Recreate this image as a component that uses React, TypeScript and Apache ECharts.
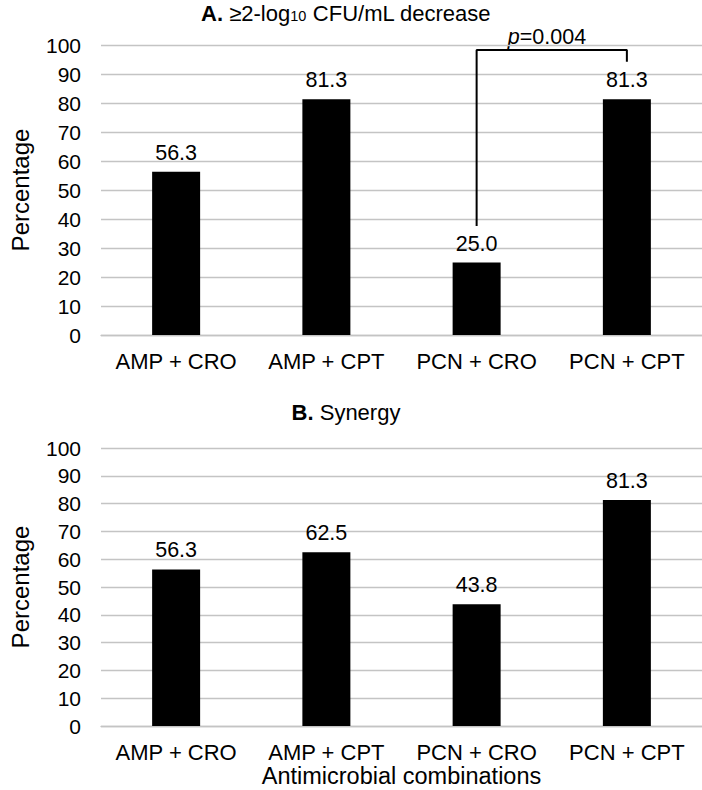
import React, { useEffect, useRef } from "react";
import * as echarts from "echarts";

const categories = ["AMP + CRO", "AMP + CPT", "PCN + CRO", "PCN + CPT"];
const decreaseValues = [56.3, 81.3, 25.0, 81.3];
const synergyValues = [56.3, 62.5, 43.8, 81.3];
const yMin = 0;
const yMax = 100;
const yStep = 10;
// significance bracket between PCN + CRO and PCN + CPT (category index, value)
const bracketPoints = [
  [2, 37.6],
  [2, 98.3],
  [3, 98.3],
  [3, 94.2],
];
const pValueText = "0.004";

const FONT = "'Liberation Sans', Arial, Helvetica, sans-serif";
const GRID_COLOR = "#c4c4c4";

function yAxisFor(gridIndex: number) {
  return {
    type: "value",
    gridIndex,
    min: yMin,
    max: yMax,
    interval: yStep,
    name: "Percentage",
    nameLocation: "middle",
    nameGap: 69,
    nameTextStyle: { fontSize: 24, color: "#000", fontFamily: FONT },
    axisLine: { show: false },
    axisTick: { show: false },
    axisLabel: { fontSize: 21, color: "#000", fontFamily: FONT, margin: 20 },
    splitLine: { lineStyle: { color: GRID_COLOR, width: 1.3 } },
  };
}

function xAxisFor(gridIndex: number, withName: boolean) {
  return {
    type: "category",
    gridIndex,
    data: categories,
    name: withName ? "Antimicrobial combinations" : "",
    nameLocation: "middle",
    nameGap: 37,
    nameTextStyle: { fontSize: 23.5, color: "#000", fontFamily: FONT },
    axisLine: { show: true, lineStyle: { color: GRID_COLOR, width: 1.3 } },
    axisTick: { show: false },
    axisLabel: { fontSize: 22, color: "#000", fontFamily: FONT, margin: 15, interval: 0 },
  };
}

function barSeries(values: number[], idx: number) {
  return {
    type: "bar",
    xAxisIndex: idx,
    yAxisIndex: idx,
    data: values,
    barWidth: 48,
    itemStyle: { color: "#000" },
    label: {
      show: true,
      position: "top",
      distance: 8,
      fontSize: 21.5,
      color: "#000",
      fontFamily: FONT,
      formatter: (p: any) => Number(p.value).toFixed(1),
    },
  };
}

export default function App() {
  const ref = useRef<HTMLDivElement>(null);

  useEffect(() => {
    if (!ref.current) return;
    const chart = echarts.init(ref.current, undefined, { renderer: "svg" });
    const mainTok = { fontSize: 22, lineHeight: 21, fontFamily: FONT, color: "#000" };
    chart.setOption({
      animation: false,
      backgroundColor: "#fff",
      grid: [
        { left: 82, right: 0, top: 45, height: 290 },
        { left: 82, right: 0, top: 448, height: 278 },
      ],
      xAxis: [xAxisFor(0, false), xAxisFor(1, true)],
      yAxis: [yAxisFor(0), yAxisFor(1)],
      series: [
        barSeries(decreaseValues, 0),
        barSeries(synergyValues, 1),
        {
          type: "line",
          xAxisIndex: 0,
          yAxisIndex: 0,
          data: bracketPoints,
          symbol: "none",
          lineStyle: { color: "#000", width: 2 },
          z: 5,
        },
      ],
      graphic: [
        {
          type: "text",
          x: 346,
          y: 13,
          style: {
            text: "{b|A.}{n| ≥2-log}{s|10}{n| CFU/mL decrease}",
            align: "center",
            verticalAlign: "middle",
            rich: {
              b: { ...mainTok, fontWeight: "bold" },
              n: mainTok,
              s: { fontSize: 14.5, lineHeight: 11, verticalAlign: "bottom", fontFamily: FONT, color: "#000" },
            },
          },
        },
        {
          type: "text",
          x: 346,
          y: 412,
          style: {
            text: "{b|B.}{n| Synergy}",
            align: "center",
            verticalAlign: "middle",
            rich: {
              b: { ...mainTok, fontWeight: "bold" },
              n: mainTok,
            },
          },
        },
        {
          type: "text",
          x: 547,
          y: 37,
          style: {
            text: "{i|p}{n|=" + pValueText + "}",
            align: "center",
            verticalAlign: "middle",
            rich: {
              i: { ...mainTok, fontSize: 21.5, fontStyle: "italic" },
              n: { ...mainTok, fontSize: 21.5 },
            },
          },
        },
      ],
    });
    return () => chart.dispose();
  }, []);

  return (
    <div
      ref={ref}
      style={{ position: "absolute", left: 0, top: 0, width: 702, height: 790 }}
    />
  );
}
